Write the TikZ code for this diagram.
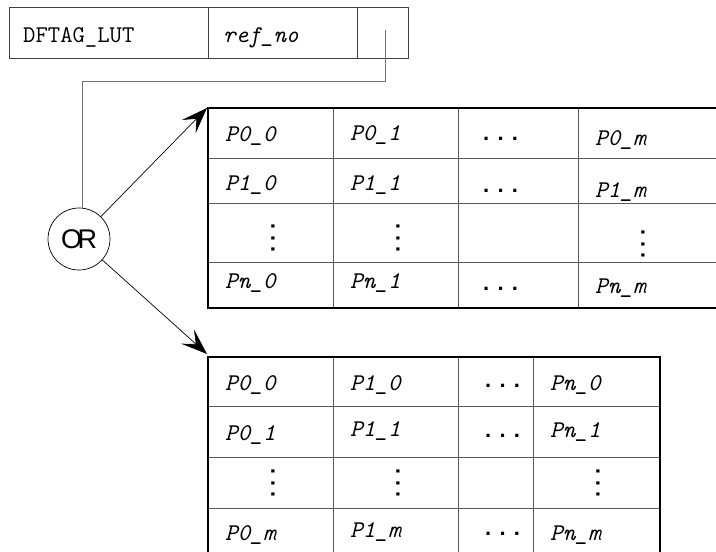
\documentclass[tikz,border=0pt]{standalone}
\usepackage{fontspec}
\setmainfont{Liberation Serif}
\newfontfamily\sansfnt{Liberation Sans}
\usetikzlibrary{arrows.meta}
\newcommand\hdt{.\kern8.2pt.\kern8.2pt.}
\newcommand\vdt{.\kern5.7pt.\kern5.7pt.}
\begin{document}
\begin{tikzpicture}[x=1pt,y=-1pt,
  cell/.style={anchor=base west,inner sep=0pt,font=\ttfamily\itshape\fontsize{24}{26}\selectfont},
  plain/.style={anchor=base west,inner sep=0pt,font=\ttfamily\fontsize{24}{26}\selectfont},
  hd/.style={anchor=base west,inner sep=0pt,font=\sansfnt\bfseries\fontsize{22}{24}\selectfont},
  vd/.style={inner sep=0pt,anchor=center,rotate=90,font=\sansfnt\bfseries\fontsize{22}{24}\selectfont},
  grid/.style={draw=black!65,line width=0.9pt},
  outer/.style={draw=black,line width=2.4pt},
  boxline/.style={draw=black!75,line width=0.9pt},
  conn/.style={draw=black!55,line width=0.9pt},
  arr/.style={draw=black,line width=0.7pt,-{Stealth[length=26pt,width=19pt,inset=11pt]}}]
\useasboundingbox (0,0) rectangle (716,552);

% top record box
\draw[boxline] (9,7) rectangle (408,58);
\draw[boxline] (208,7) -- (208,58);
\draw[boxline] (357,7) -- (357,58);
\node[plain] (lut) at (23,42) {DFTAG\_LUT};
\node[cell] (ref) at (223,42) {ref\_no};

% OR node
\node[circle,draw=black,line width=0.7pt,minimum size=62pt,inner sep=0pt,
      font=\sansfnt\fontsize{27}{29}\selectfont] (or) at (79,239) {O\kern-4.5pt R};

\coordinate (ptr) at (385,30);
\coordinate (bend) at (82,81);
\draw[conn] (ptr) |- (bend) -- (bend |- or.north);

\coordinate (tip1) at (207,108);
\coordinate (tip2) at (207,354);
\draw[arr] (or) -- (tip1);
\draw[arr] (or) -- (tip2);

% table 1 (rows P0..Pn, cols 0..m)
\draw[grid] (208,158) -- (716,158);
\draw[grid] (208,203) -- (716,203);
\draw[grid] (208,262) -- (716,262);
\draw[grid] (333,108) -- (333,308);
\draw[grid] (458,108) -- (458,308);
\draw[grid] (578,108) -- (578,308);
\draw[outer] (716,108) -- (208,108) -- (208,308) -- (716,308);

\node[cell] (a00) at (225,141) {P0\_0};
\node[cell] (a01) at (350,140) {P0\_1};
\node[hd]   (a0d) at (483,140) {\hdt};
\node[cell] (a0m) at (595,145) {P0\_m};
\node[cell] (a10) at (225,190) {P1\_0};
\node[cell] (a11) at (350,190) {P1\_1};
\node[hd]   (a1d) at (483,192) {\hdt};
\node[cell] (a1m) at (595,197) {P1\_m};
\node[vd]   (av0) at (273,238) {\vdt};
\node[vd]   (av1) at (398,238) {\vdt};
\node[vd]   (avm) at (643,244) {\vdt};
\node[cell] (an0) at (225,288) {Pn\_0};
\node[cell] (an1) at (350,288) {Pn\_1};
\node[hd]   (and) at (483,290) {\hdt};
\node[cell] (anm) at (595,293) {Pn\_m};

% table 2 (transposed)
\draw[grid] (208,406) -- (660,406);
\draw[grid] (208,457) -- (660,457);
\draw[grid] (208,508) -- (660,508);
\draw[grid] (333,357) -- (333,552);
\draw[grid] (458,357) -- (458,552);
\draw[grid] (533,357) -- (533,552);
\draw[outer] (208,552) -- (208,357) -- (660,357) -- (660,552);

\node[cell] (b00) at (225,390) {P0\_0};
\node[cell] (b10) at (350,390) {P1\_0};
\node[hd]   (b0d) at (485,387) {\hdt};
\node[cell] (bn0) at (550,390) {Pn\_0};
\node[cell] (b01) at (225,440) {P0\_1};
\node[cell] (b11) at (350,436) {P1\_1};
\node[hd]   (b1d) at (485,437) {\hdt};
\node[cell] (bn1) at (550,437) {Pn\_1};
\node[vd]   (bv0) at (273,483) {\vdt};
\node[vd]   (bv1) at (398,483) {\vdt};
\node[vd]   (bvn) at (598,483) {\vdt};
\node[cell] (b0m) at (225,540) {P0\_m};
\node[cell] (b1m) at (350,537) {P1\_m};
\node[hd]   (bmd) at (485,535) {\hdt};
\node[cell] (bnm) at (550,540) {Pn\_m};
\end{tikzpicture}
\end{document}
